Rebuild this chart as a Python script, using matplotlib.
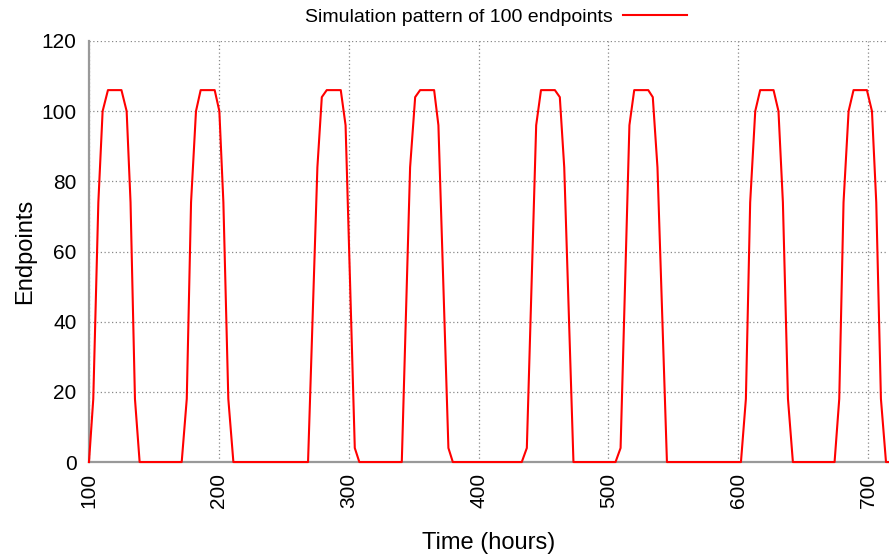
import matplotlib
matplotlib.use("Agg")
import matplotlib.pyplot as plt

plt.rcParams['font.family'] = ['Liberation Sans', 'DejaVu Sans']

# hour / active endpoint count, one block per daily peak
hours = [
    100.0, 103.3, 107.2, 110.5, 114.6, 125.0, 129.0, 132.0, 135.4, 139.0,
    171.4, 175.3, 178.6, 182.4, 186.0, 196.8, 200.4, 203.5, 207.3, 211.2,
    268.7, 275.9, 279.3, 283.1, 293.9, 297.6, 304.7, 308.2,
    340.9, 347.3, 351.2, 355.0, 365.8, 369.1, 376.8, 380.2,
    433.3, 437.2, 444.4, 448.1, 458.8, 462.6, 466.0, 473.1,
    505.5, 509.4, 516.2, 519.9, 530.7, 534.2, 537.8, 545.1,
    602.1, 605.9, 609.2, 613.1, 616.9, 627.2, 631.0, 634.4, 638.3, 642.1,
    674.2, 677.8, 681.1, 685.0, 688.8, 699.1, 703.0, 706.3, 709.9, 713.8,
    715.5,
]
endpoints = [
    0, 18, 74, 100, 106, 106, 100, 74, 18, 0,
    0, 18, 74, 100, 106, 106, 100, 74, 18, 0,
    0, 84, 104, 106, 106, 96, 4, 0,
    0, 84, 104, 106, 106, 96, 4, 0,
    0, 4, 96, 106, 106, 104, 84, 0,
    0, 4, 96, 106, 106, 104, 84, 0,
    0, 18, 74, 100, 106, 106, 100, 74, 18, 0,
    0, 18, 74, 100, 106, 106, 100, 74, 18, 0,
    0,
]
x_ticks = [100, 200, 300, 400, 500, 600, 700]
y_ticks = [0, 20, 40, 60, 80, 100, 120]

fig = plt.figure(figsize=(8.89, 5.54), dpi=100)
ax = fig.add_axes([0.1001, 0.166, 0.899, 0.760])

ax.plot(hours, endpoints, color='#ff0000', lw=1.5,
        label='Simulation pattern of 100 endpoints', clip_on=False, zorder=3)

ax.set_xlim(100, 715.5)
ax.set_ylim(0, 120)
ax.set_xticks(x_ticks)
ax.set_yticks(y_ticks)
ax.tick_params(axis='x', labelrotation=90, labelsize=15, length=0, pad=8)
ax.tick_params(axis='y', labelsize=15, length=0, pad=9)

ax.grid(True, color='#888888', linestyle=(0, (1, 2)), linewidth=0.9)
ax.set_axisbelow(True)
for side in ('top', 'right'):
    ax.spines[side].set_visible(False)
for side in ('left', 'bottom'):
    ax.spines[side].set_color('#999999')
    ax.spines[side].set_linewidth(1.6)

ax.set_xlabel('Time (hours)', fontsize=17, labelpad=17)
ax.set_ylabel('Endpoints', fontsize=17, labelpad=4)

ax.legend(loc='center', bbox_to_anchor=(0.558, 0.969), bbox_transform=fig.transFigure,
          frameon=False, markerfirst=False, fontsize=14, handlelength=3.3,
          handletextpad=0.5, borderpad=0)

fig.savefig('out.png', dpi=100)
